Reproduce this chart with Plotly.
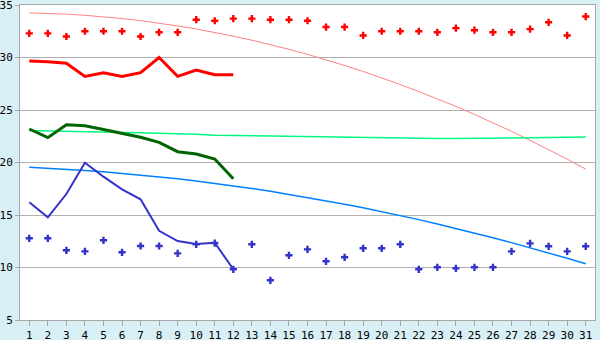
import plotly.graph_objects as go

days = list(range(1, 32))
days12 = list(range(1, 13))

red_points = [32.3, 32.3, 32.0, 32.5, 32.5, 32.5, 32.0, 32.4, 32.4, 33.6,
              33.5, 33.7, 33.7, 33.6, 33.6, 33.5, 32.9, 32.9, 32.1, 32.5,
              32.5, 32.5, 32.4, 32.8, 32.6, 32.4, 32.4, 32.7, 33.35, 32.1, 33.9]
red_line = [29.67, 29.6, 29.45, 28.2, 28.55, 28.2, 28.55, 30.0, 28.2, 28.8, 28.36, 28.35]
pink_trend = [34.25, 34.20, 34.13, 34.02, 33.88, 33.71, 33.51, 33.27, 33.01, 32.72,
              32.39, 32.03, 31.65, 31.23, 30.78, 30.30, 29.79, 29.24, 28.67, 28.07,
              27.43, 26.76, 26.07, 25.34, 24.58, 23.79, 22.97, 22.11, 21.23, 20.32, 19.37]
green_line = [23.19, 22.37, 23.6, 23.5, 23.15, 22.78, 22.4, 21.92, 21.03, 20.81, 20.33, 18.46]
green_trend = [23.05, 23.0, 22.95, 22.9, 22.88, 22.85, 22.83, 22.8, 22.75, 22.68,
               22.6, 22.57, 22.53, 22.5, 22.48, 22.45, 22.42, 22.38, 22.35, 22.33,
               22.3, 22.3, 22.29, 22.28, 22.28, 22.3, 22.32, 22.35, 22.37, 22.4, 22.42]
blue_points = [12.78, 12.78, 11.64, 11.54, 12.59, 11.45, 12.05, 12.05, 11.35, 12.21,
               12.33, 9.83, 12.21, 8.78, 11.16, 11.73, 10.59, 10.97, 11.83, 11.83,
               12.21, 9.83, 10.02, 9.92, 10.02, 10.02, 11.54, 12.3, 12.02, 11.54, 12.02]
blue_line = [16.21, 14.78, 17.0, 19.98, 18.65, 17.45, 16.5, 13.5, 12.52, 12.24, 12.36, 9.83]
blue_trend = [19.55, 19.47, 19.37, 19.25, 19.12, 18.97, 18.81, 18.64, 18.45, 18.24,
              18.02, 17.78, 17.53, 17.26, 16.97, 16.67, 16.36, 16.03, 15.68, 15.32,
              14.95, 14.56, 14.15, 13.73, 13.29, 12.84, 12.37, 11.89, 11.39, 10.88, 10.35]

fig = go.Figure()
fig.add_trace(go.Scatter(x=days, y=pink_trend, mode="lines", line=dict(color="#ff8080", width=1)))
fig.add_trace(go.Scatter(x=days, y=green_trend, mode="lines", line=dict(color="#00f880", width=1.5)))
fig.add_trace(go.Scatter(x=days, y=blue_trend, mode="lines", line=dict(color="#0080ff", width=1.5)))
fig.add_trace(go.Scatter(x=days12, y=red_line, mode="lines", line=dict(color="#ff0000", width=3)))
fig.add_trace(go.Scatter(x=days12, y=green_line, mode="lines", line=dict(color="#006400", width=3)))
fig.add_trace(go.Scatter(x=days12, y=blue_line, mode="lines", line=dict(color="#3333cc", width=2)))
fig.add_trace(go.Scatter(x=days, y=red_points, mode="markers",
                         marker=dict(symbol="cross", size=6, color="#ff0000", line=dict(width=0))))
fig.add_trace(go.Scatter(x=days, y=blue_points, mode="markers",
                         marker=dict(symbol="cross", size=6, color="#3333cc", line=dict(width=0))))

axis_font = dict(family="DejaVu Sans Mono", size=11, color="#000000")
fig.update_layout(
    width=600, height=340,
    margin=dict(l=20, r=5, t=5, b=20),
    paper_bgcolor="#d9eff6",
    plot_bgcolor="#ffffff",
    showlegend=False,
    hovermode=False,
    xaxis=dict(range=[0.5, 31.5], tickmode="array", tickvals=days, ticktext=[str(d) for d in days],
               showgrid=False, zeroline=False, showline=True, linecolor="#a8a8a8", linewidth=1,
               mirror=True, ticks="outside", ticklen=5, tickcolor="#a8a8a8", tickfont=axis_font,
               ticklabeloverflow="allow", automargin=False),
    yaxis=dict(range=[5, 35], tickmode="array", tickvals=[5, 10, 15, 20, 25, 30, 35],
               showgrid=True, gridcolor="#b0b0b0", gridwidth=1, zeroline=False,
               showline=True, linecolor="#a8a8a8", linewidth=1, mirror=True,
               ticks="outside", ticklen=4, tickcolor="#a8a8a8", tickfont=axis_font,
               ticklabeloverflow="allow", automargin=False),
)

fig.write_html("out.html")
